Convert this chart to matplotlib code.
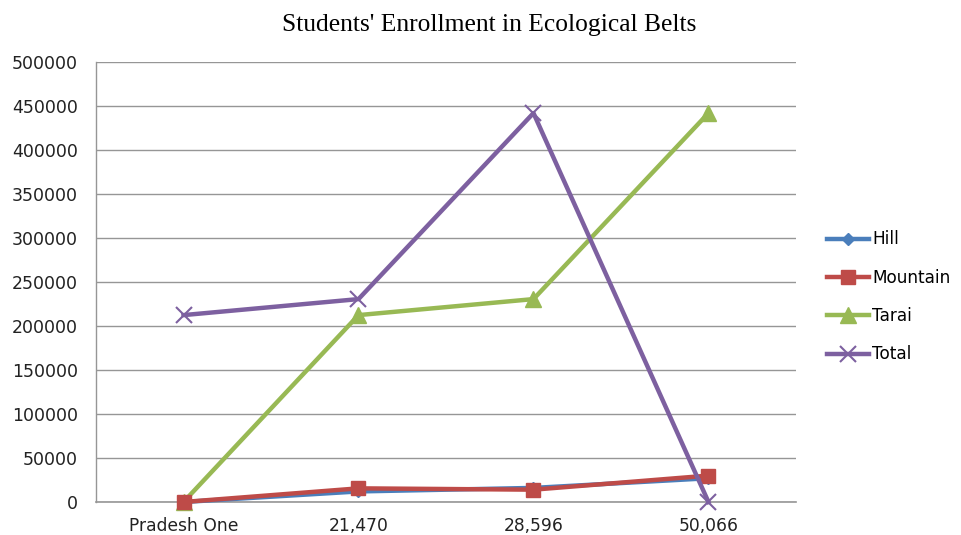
import matplotlib.pyplot as plt
import numpy as np

# categories and series
categories = ['Pradesh One', '21,470', '28,596', '50,066']
hill = [0, 12000, 16000, 27000]
mountain = [0, 15500, 14000, 30000]
tarai = [0, 212400, 230600, 442000]
total = [212400, 230600, 442000, 0]

y_ticks = np.arange(0, 500001, 50000)

fig = plt.figure(figsize=(9.62, 5.35), dpi=100)
ax = fig.add_axes([0.0998, 0.0617, 0.7276, 0.8223])

x = np.arange(len(categories))

ax.plot(x, hill, color='#4A7EBB', lw=3.2, marker='D', ms=6, label='Hill', zorder=3, clip_on=False)
ax.plot(x, mountain, color='#BE4B48', lw=3.2, marker='s', ms=10, label='Mountain', zorder=4, clip_on=False)
ax.plot(x, tarai, color='#98B954', lw=3.2, marker='^', ms=11, label='Tarai', zorder=3, clip_on=False)
ax.plot(x, total, color='#7D60A0', lw=3.2, marker='x', ms=11, mew=1.5, label='Total', zorder=5, clip_on=False)

ax.set_xlim(-0.5, len(categories) - 0.5)
ax.set_ylim(0, 500000)
ax.set_yticks(y_ticks)
ax.set_yticklabels([str(v) for v in y_ticks], fontsize=12.5, color='#222222')
ax.set_xticks(x)
ax.set_xticklabels(categories, fontsize=12.3, color='#222222')
ax.tick_params(axis='both', length=0)
ax.tick_params(axis='y', pad=13)
ax.tick_params(axis='x', pad=11)

ax.grid(axis='y', color='#969696', lw=1)
ax.axhline(0, color='#969696', lw=1.2, clip_on=False, zorder=1)
ax.set_axisbelow(True)
for side in ['top', 'right', 'bottom']:
    ax.spines[side].set_visible(False)
ax.spines['left'].set_color('#969696')
ax.spines['left'].set_linewidth(1)

fig.text(0.508, 0.953, "Students' Enrollment in Ecological Belts", ha='center', va='center',
         fontsize=18.4, family='Liberation Serif')

ax.legend(loc='center left', bbox_to_anchor=(1.022, 0.466), frameon=False, fontsize=12.2,
          handlelength=2.5, labelspacing=1.2, handletextpad=0.2)

fig.savefig('out.png', dpi=100)
